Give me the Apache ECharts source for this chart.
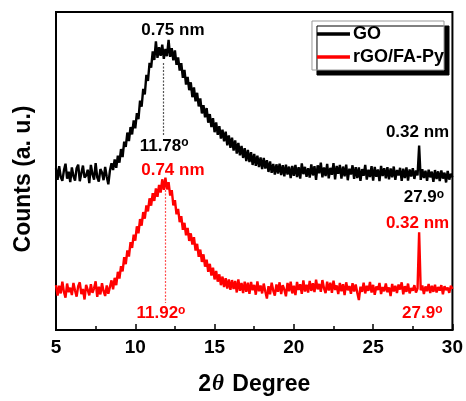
<!DOCTYPE html>
<html>
<head>
<meta charset="utf-8">
<script src="https://cdn.jsdelivr.net/npm/echarts@6/dist/echarts.min.js"></script>
<style>
html,body{margin:0;padding:0;background:#fff;}
#c{width:466px;height:401px;}
</style>
</head>
<body>
<div id="c"></div>
<script>
// sampling grid of 2θ (degrees)
const twoThetaStart = 5;
const twoThetaStep = 0.1;
const xTicks = [5, 10, 15, 20, 25, 30];
const seriesNames = ['GO', 'rGO/FA-Py'];

// GO counts (a.u.), 5.0 .. 30.0 step 0.1
const goCounts = [
  50.8, 47.2, 51.5, 48.1, 46.9, 50.2, 52.3, 47.6, 49.8, 46.5,
  51.1, 48.4, 47.0, 50.9, 52.0, 46.8, 49.3, 51.7, 47.9, 48.6,
  50.4, 46.2, 51.9, 49.0, 47.3, 52.5, 48.0, 46.7, 50.6, 49.5,
  47.1, 51.3, 48.2, 45.8, 50.1, 52.4, 50.3, 53.6, 51.0, 54.8,
  52.6, 56.9, 54.4, 59.2, 57.6, 62.1, 59.4, 63.8, 61.5, 65.9,
  63.4, 68.2, 66.3, 72.1, 70.2, 75.8, 74.1, 80.2, 78.3, 84.0,
  82.5, 87.6, 84.9, 90.8, 85.6, 88.9, 86.2, 89.7, 85.3, 88.4,
  86.1, 91.2, 85.9, 88.6, 84.8, 87.9, 83.4, 85.7, 81.6, 83.9,
  79.3, 81.8, 77.2, 79.6, 75.4, 77.9, 73.2, 76.3, 71.9, 74.6,
  70.3, 72.8, 68.1, 70.7, 66.9, 69.8, 65.2, 67.9, 63.8, 66.6,
  62.2, 65.3, 61.4, 64.1, 60.2, 63.0, 59.3, 62.4, 58.1, 61.2,
  57.3, 60.5, 56.4, 59.6, 55.5, 58.8, 54.9, 57.9, 54.1, 57.2,
  53.1, 56.6, 52.8, 55.9, 51.9, 55.4, 51.6, 54.8, 51.2, 54.3,
  50.6, 54.1, 50.8, 53.4, 49.7, 53.0, 49.4, 52.2, 48.9, 52.1,
  49.2, 52.3, 48.7, 51.8, 48.3, 52.0, 48.9, 51.4, 47.8, 51.6,
  48.5, 51.9, 48.1, 51.2, 47.6, 52.4, 49.0, 51.3, 48.2, 50.9,
  47.9, 52.1, 48.6, 51.5, 47.2, 51.8, 49.3, 52.6, 48.0, 51.1,
  48.4, 52.2, 47.7, 51.0, 48.8, 52.5, 47.4, 51.6, 49.1, 51.9,
  47.6, 51.4, 48.3, 52.0, 47.1, 50.7, 48.9, 51.8, 47.5, 51.2,
  47.8, 51.1, 46.9, 50.6, 48.5, 51.9, 47.3, 50.4, 48.1, 51.5,
  47.0, 51.3, 48.2, 50.5, 46.8, 51.6, 48.4, 50.9, 47.7, 51.2,
  47.4, 50.8, 48.0, 51.4, 47.2, 50.3, 48.6, 51.0, 46.9, 50.7,
  47.8, 51.1, 47.0, 50.5, 48.3, 50.9, 47.5, 50.2, 48.6, 58.0,
  47.2, 50.6, 47.8, 50.1, 46.9, 50.4, 48.0, 49.8, 46.6, 50.3,
  47.5, 49.9, 46.8, 50.2, 47.6, 49.5, 46.4, 50.0, 47.3, 49.1,
  48.0
];

// rGO/FA-Py counts (a.u.), 5.0 .. 30.0 step 0.1
const rgoCounts = [
  14.1, 10.8, 13.9, 11.5, 15.2, 12.0, 10.2, 14.6, 11.9, 13.3,
  11.0, 14.8, 12.4, 10.5, 13.8, 15.0, 11.3, 12.9, 9.6, 14.2,
  12.6, 10.9, 14.4, 11.7, 13.1, 15.3, 10.4, 13.6, 11.2, 14.7,
  12.2, 10.7, 14.0, 11.4, 13.5, 15.6, 12.8, 16.4, 14.1, 18.3,
  16.2, 20.1, 18.4, 22.9, 20.7, 25.0, 23.1, 27.6, 25.8, 30.0,
  28.1, 32.6, 30.4, 34.9, 32.8, 37.1, 35.0, 39.2, 37.3, 41.4,
  39.1, 43.0, 40.6, 44.5, 41.9, 45.6, 43.2, 47.4, 44.1, 47.9,
  44.2, 46.5, 42.3, 44.0, 39.2, 40.8, 36.4, 38.1, 33.9, 35.8,
  31.5, 33.7, 29.8, 32.1, 28.0, 30.4, 26.9, 29.2, 25.0, 27.1,
  23.0, 25.3, 21.4, 23.8, 19.9, 22.1, 18.3, 20.8, 17.1, 19.6,
  15.9, 18.6, 15.2, 17.5, 14.1, 16.8, 13.5, 16.3, 13.0, 15.9,
  12.6, 15.7, 12.9, 15.4, 11.8, 15.9, 12.3, 14.8, 11.6, 15.2,
  12.0, 14.9, 11.4, 15.1, 12.5, 14.2, 11.1, 15.3, 12.2, 14.0,
  11.5, 14.6, 12.1, 9.9, 13.8, 11.2, 14.9, 12.4, 10.8, 14.3,
  12.0, 15.0, 11.3, 14.1, 12.7, 10.6, 14.8, 12.2, 15.2, 11.5,
  13.9, 11.0, 15.1, 12.6, 14.4, 11.4, 15.6, 12.1, 14.2, 11.8,
  15.4, 12.3, 14.7, 11.9, 15.8, 12.8, 14.5, 12.0, 15.7, 13.1,
  11.6, 15.2, 12.4, 14.9, 11.7, 15.5, 12.6, 14.0, 11.3, 14.8,
  12.2, 14.4, 11.0, 15.0, 12.5, 13.8, 11.4, 14.7, 12.1, 14.3,
  11.7, 9.4, 13.6, 12.0, 14.9, 11.5, 13.9, 12.3, 15.1, 11.8,
  14.2, 11.1, 13.7, 12.6, 14.8, 11.3, 13.5, 12.2, 14.6, 11.9,
  13.4, 10.7, 14.5, 12.1, 13.9, 11.6, 14.3, 12.7, 15.0, 11.2,
  13.8, 12.0, 14.6, 11.5, 13.2, 12.4, 14.1, 11.8, 13.0, 30.7,
  12.5, 14.0, 11.3, 13.7, 12.2, 14.5, 11.6, 13.9, 12.0, 14.2,
  11.8, 13.5, 12.4, 14.1, 11.2, 13.8, 12.6, 13.3, 11.7, 13.9,
  12.9
];

// annotations: [2θ, y, text, degree-mark]
const goAnnotations = [
  [12.37, 94.2, '0.75 nm'],
  [11.82, 57.8, '11.78', true],
  [27.80, 62.3, '0.32 nm'],
  [28.20, 41.6, '27.9', true]
];
const rgoAnnotations = [
  [12.37, 50.1, '0.74 nm'],
  [11.62, 5.1, '11.92', true],
  [27.80, 33.5, '0.32 nm'],
  [28.10, 5.4, '27.9', true]
];
const goPeakLine = [11.78, 84, 61];
const rgoPeakLine = [11.92, 44, 8.5];

function pairs(arr) {
  return arr.map((v, i) => [+(twoThetaStart + i * twoThetaStep).toFixed(2), v]);
}
function markPts(list, color) {
  return {
    symbol: 'circle', symbolSize: 0, silent: true,
    label: {
      show: true, position: 'inside', color: color,
      fontFamily: 'Liberation Sans, Arial', fontWeight: 'bold', fontSize: 17,
      formatter: p => p.data.deg ? '{a|' + p.data.txt + '}{s|o}' : '{a|' + p.data.txt + '}',
      rich: {
        a: {fontSize: 17, fontWeight: 'bold', color: color, lineHeight: 19, fontFamily: 'Liberation Sans, Arial'},
        s: {fontSize: 12, fontWeight: 'bold', color: color, verticalAlign: 'top', lineHeight: 19, fontFamily: 'Liberation Sans, Arial'}
      }
    },
    data: list.map(a => ({coord: [a[0], a[1]], txt: a[2], deg: !!a[3]}))
  };
}
function markLn(l, color) {
  return {
    symbol: ['none', 'none'], silent: true, label: {show: false},
    lineStyle: {type: [2, 1.5], width: 1.2, color: color},
    data: [[{coord: [l[0], l[1]]}, {coord: [l[0], l[2]]}]]
  };
}

const chart = echarts.init(document.getElementById('c'), null, {renderer: 'canvas'});
chart.setOption({
  animation: false,
  backgroundColor: '#fff',
  grid: {left: 56, right: 13, top: 12, bottom: 67, show: true, borderColor: '#000', borderWidth: 2, backgroundColor: 'transparent'},
  legend: {
    orient: 'vertical', right: 22, top: 21,
    itemWidth: 33, itemHeight: 12, itemGap: 5,
    padding: [4, 0, 4, 5],
    backgroundColor: '#fff', borderColor: '#999', borderWidth: 1,
    shadowColor: '#000', shadowBlur: 0, shadowOffsetX: 5, shadowOffsetY: 5,
    textStyle: {fontFamily: 'Liberation Sans, Arial', fontWeight: 'bold', fontSize: 18, color: '#000', padding: [0, 0, 0, -2]},
    data: [
      {name: seriesNames[0], icon: 'path://M0,0H10V1H0Z'},
      {name: seriesNames[1], icon: 'path://M0,0H10V1H0Z'}
    ]
  },
  xAxis: {
    type: 'value', min: 5, max: 30, interval: 5,
    name: '2{i|θ} Degree', nameLocation: 'middle', nameGap: 43,
    nameTextStyle: {
      fontFamily: 'Liberation Sans, Arial', fontWeight: 'bold', fontSize: 23, color: '#000',
      rich: {i: {fontFamily: 'Liberation Serif, DejaVu Serif', fontStyle: 'italic', fontSize: 23, color: '#000', padding: [0, 2, 0, 1]}}
    },
    axisLine: {show: true, lineStyle: {color: '#000', width: 2}},
    axisTick: {show: true, inside: true, length: 6, lineStyle: {color: '#000', width: 1.5}},
    minorTick: {show: true, splitNumber: 2, length: 4, lineStyle: {color: '#000', width: 1.5}},
    axisLabel: {
      fontFamily: 'Liberation Sans, Arial', fontWeight: 'bold', fontSize: 19, color: '#000', margin: 8,
      customValues: xTicks, formatter: v => String(v)
    },
    splitLine: {show: false}, minorSplitLine: {show: false}
  },
  yAxis: {
    type: 'value', min: 0, max: 100,
    name: 'Counts (a. u.)', nameLocation: 'middle', nameGap: 21, nameRotate: 90,
    nameTextStyle: {fontFamily: 'Liberation Sans, Arial', fontWeight: 'bold', fontSize: 23, color: '#000', padding: [0, 0, 0, -16]},
    axisLine: {show: true, lineStyle: {color: '#000', width: 2}},
    axisTick: {show: false}, axisLabel: {show: false}, splitLine: {show: false}
  },
  series: [
    {
      name: seriesNames[0], type: 'line', showSymbol: false, symbol: 'none',
      lineStyle: {color: '#000', width: 2.4}, itemStyle: {color: '#000'},
      data: pairs(goCounts),
      markLine: markLn(goPeakLine, '#555'),
      markPoint: markPts(goAnnotations, '#000'),
      z: 3
    },
    {
      name: seriesNames[1], type: 'line', showSymbol: false, symbol: 'none',
      lineStyle: {color: '#ff0000', width: 2.4}, itemStyle: {color: '#ff0000'},
      data: pairs(rgoCounts),
      markLine: markLn(rgoPeakLine, '#ff5050'),
      markPoint: markPts(rgoAnnotations, '#ff0000'),
      z: 2
    }
  ]
});
</script>
</body>
</html>
